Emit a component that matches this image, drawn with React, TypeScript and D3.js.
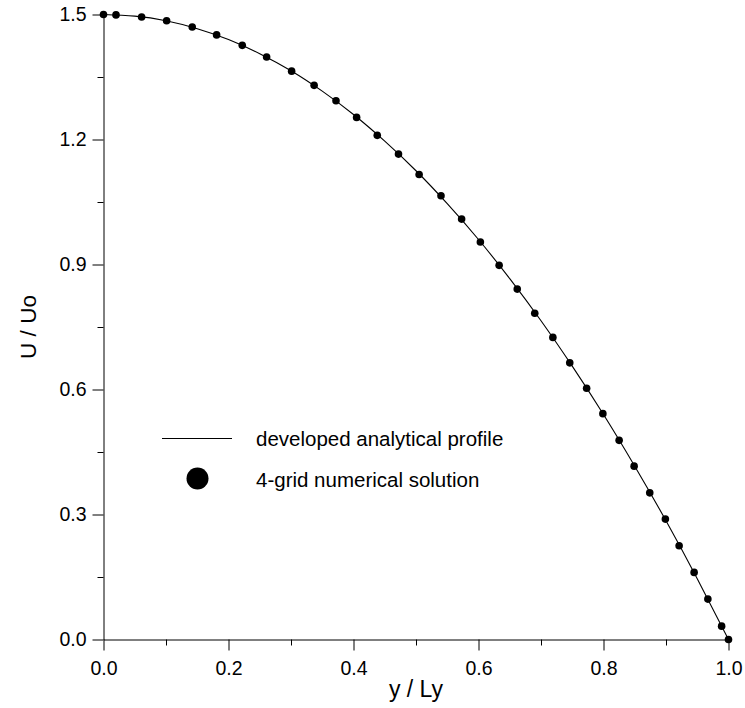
import React, { useEffect, useRef } from "react";
import * as d3 from "d3";

const WIDTH = 745;
const HEIGHT = 708;
const FONT = "'Liberation Sans', Arial, Helvetica, sans-serif";

// 4-grid numerical solution
const numY = [0, 0.02, 0.061, 0.101, 0.142, 0.181, 0.222, 0.261, 0.301, 0.337, 0.372, 0.405, 0.438, 0.472,
  0.505, 0.54, 0.573, 0.603, 0.633, 0.662, 0.69, 0.719, 0.746, 0.773, 0.799, 0.825, 0.849, 0.874, 0.899,
  0.921, 0.945, 0.967, 0.989, 1.0];
const numU = [1.5, 1.499, 1.494, 1.485, 1.47, 1.451, 1.426, 1.398, 1.364, 1.33, 1.293, 1.253, 1.21, 1.165,
  1.116, 1.065, 1.009, 0.954, 0.898, 0.841, 0.783, 0.725, 0.664, 0.603, 0.542, 0.478, 0.416, 0.352, 0.289,
  0.225, 0.161, 0.097, 0.032, 0];

// developed analytical profile
const anaY = [0, 0.05, 0.1, 0.15, 0.2, 0.25, 0.3, 0.35, 0.4, 0.45, 0.5, 0.55, 0.6, 0.65, 0.7, 0.75, 0.8,
  0.85, 0.9, 0.95, 1.0];
const anaU = [1.5, 1.496, 1.485, 1.466, 1.44, 1.406, 1.365, 1.316, 1.26, 1.196, 1.125, 1.046, 0.96, 0.866,
  0.765, 0.656, 0.54, 0.416, 0.285, 0.146, 0];

const xMajor = [0, 0.2, 0.4, 0.6, 0.8, 1.0];
const xMinor = [0.1, 0.3, 0.5, 0.7, 0.9];
const yMajor = [0, 0.3, 0.6, 0.9, 1.2, 1.5];
const yMinor = [0.15, 0.45, 0.75, 1.05, 1.35];

const legendLabels = ["developed analytical profile", "4-grid numerical solution"];

export default function App() {
  const ref = useRef<SVGSVGElement | null>(null);

  useEffect(() => {
    const svg = d3.select(ref.current);
    svg.selectAll("*").remove();

    const x = d3.scaleLinear().domain([0, 1]).range([103.5, 728.5]);
    const y = d3.scaleLinear().domain([0, 1.5]).range([639.5, 14.5]);

    const styleAxis = (g: any) => {
      g.attr("font-family", FONT).attr("font-size", 19.5).attr("fill", "black");
      g.selectAll("text").attr("fill", "black");
      g.selectAll("line").attr("stroke", "black");
    };

    // x axis
    svg.append("g")
      .attr("transform", `translate(0,${y(0)})`)
      .call(d3.axisBottom(x).tickValues(xMinor).tickSize(6).tickSizeOuter(0).tickFormat(() => ""))
      .call((g: any) => g.select(".domain").remove())
      .call(styleAxis);
    svg.append("g")
      .attr("transform", `translate(0,${y(0)})`)
      .call(d3.axisBottom(x).tickValues(xMajor).tickSize(11).tickSizeOuter(0).tickPadding(11)
        .tickFormat(d3.format(".1f")))
      .call((g: any) => g.select(".domain").attr("stroke", "black"))
      .call(styleAxis);

    // y axis
    svg.append("g")
      .attr("transform", `translate(${x(0)},0)`)
      .call(d3.axisLeft(y).tickValues(yMinor).tickSize(6).tickSizeOuter(0).tickFormat(() => ""))
      .call((g: any) => g.select(".domain").remove())
      .call(styleAxis);
    svg.append("g")
      .attr("transform", `translate(${x(0)},0)`)
      .call(d3.axisLeft(y).tickValues(yMajor).tickSize(11).tickSizeOuter(0).tickPadding(6)
        .tickFormat(d3.format(".1f")))
      .call((g: any) => g.select(".domain").attr("stroke", "black"))
      .call(styleAxis);

    // axis titles
    svg.append("text")
      .attr("x", (x(0) + x(1)) / 2)
      .attr("y", 697)
      .attr("text-anchor", "middle")
      .attr("font-family", FONT)
      .attr("font-size", 23)
      .text("y / Ly");
    svg.append("text")
      .attr("transform", `translate(36,${(y(0) + y(1.5)) / 2}) rotate(-90)`)
      .attr("text-anchor", "middle")
      .attr("font-family", FONT)
      .attr("font-size", 22.5)
      .text("U / Uo");

    // analytical profile
    const line = d3.line<number>()
      .x((d) => x(d))
      .y((d, i) => y(anaU[i]))
      .curve(d3.curveNatural);
    svg.append("path")
      .datum(anaY)
      .attr("d", line)
      .attr("fill", "none")
      .attr("stroke", "black")
      .attr("stroke-width", 1.1);

    // numerical points
    svg.append("g")
      .selectAll("circle")
      .data(numY)
      .join("circle")
      .attr("cx", (d) => x(d))
      .attr("cy", (d, i) => y(numU[i]))
      .attr("r", 3.8)
      .attr("fill", "black");

    // legend
    const lg = svg.append("g");
    lg.append("line")
      .attr("x1", 162).attr("x2", 232)
      .attr("y1", 438.5).attr("y2", 438.5)
      .attr("stroke", "black");
    lg.append("circle")
      .attr("cx", 197.5).attr("cy", 478.5).attr("r", 11).attr("fill", "black");
    lg.selectAll("text")
      .data(legendLabels)
      .join("text")
      .attr("x", 256)
      .attr("y", (d, i) => 445.5 + i * 41)
      .attr("font-family", FONT)
      .attr("font-size", 20.5)
      .text((d) => d);
  }, []);

  return (
    <svg
      ref={ref}
      width={WIDTH}
      height={HEIGHT}
      style={{ position: "absolute", left: 0, top: 0, background: "white" }}
    />
  );
}
